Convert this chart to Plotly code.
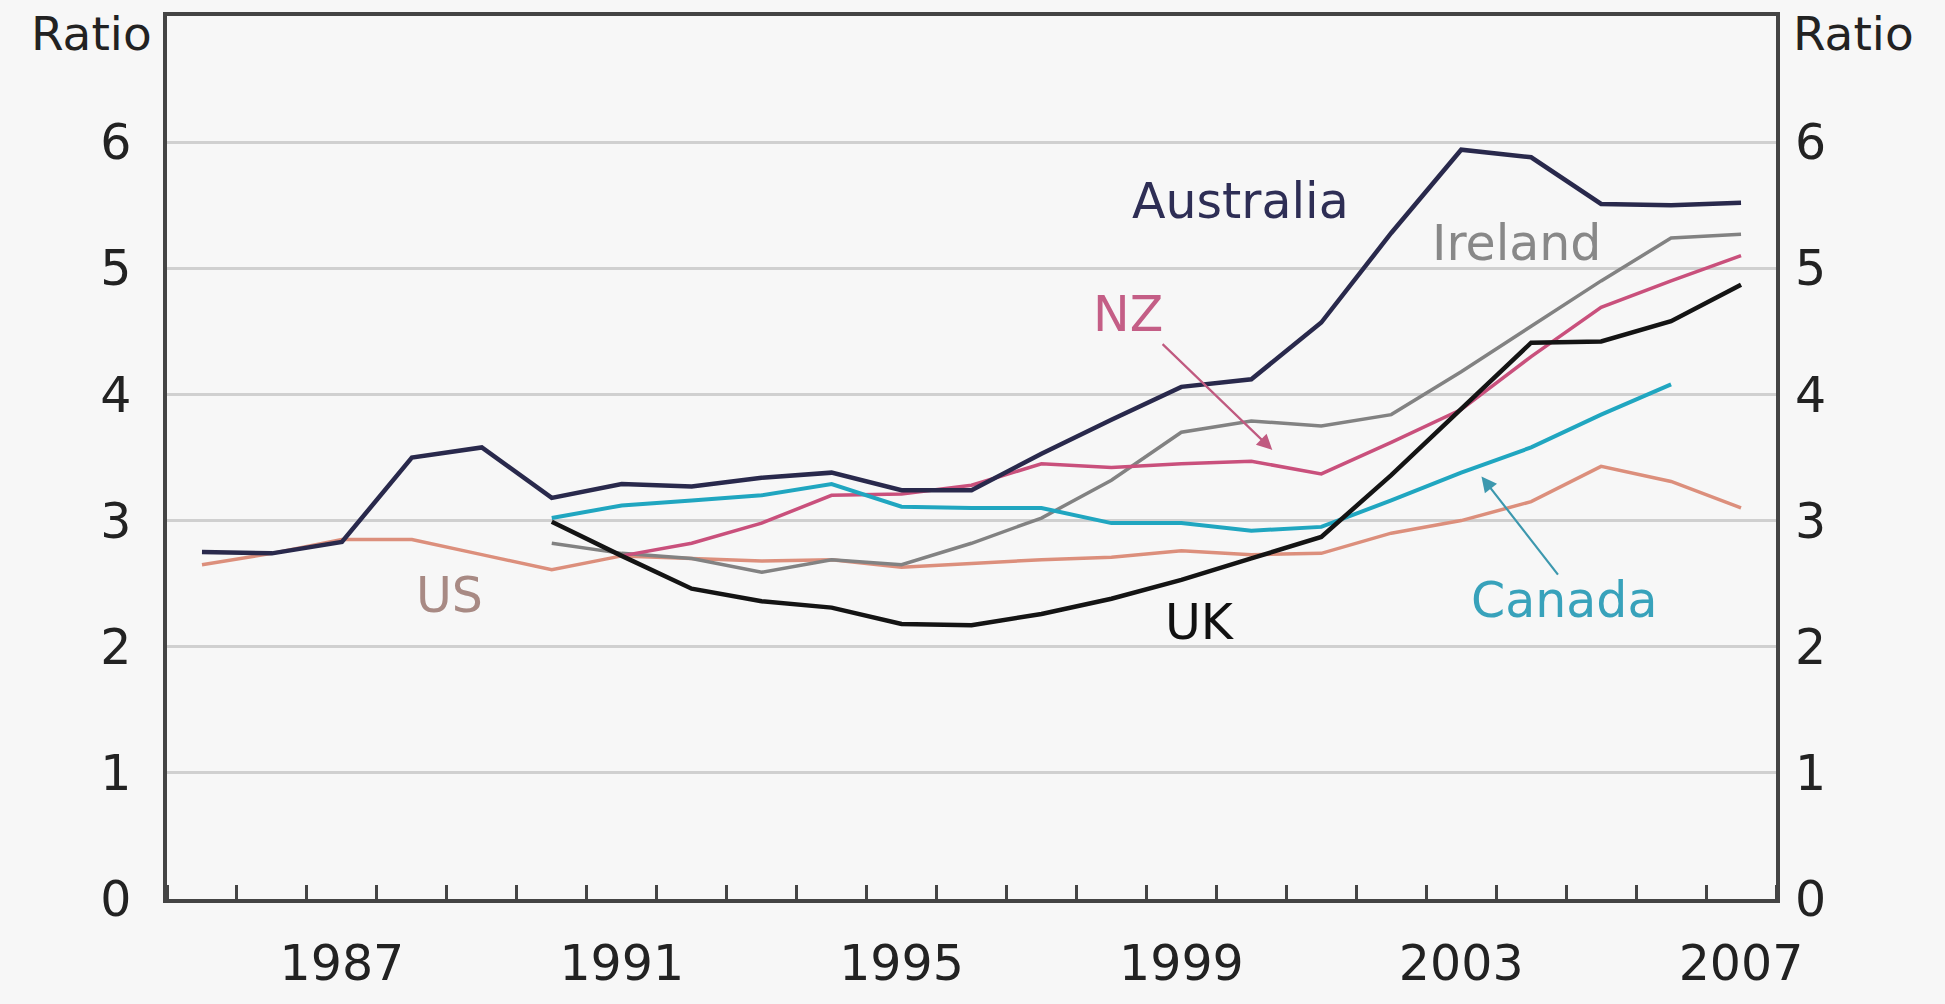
import plotly.graph_objects as go

years = list(range(1985, 2008))
N = None

australia = [2.75, 2.74, 2.83, 3.50, 3.58, 3.18, 3.29, 3.27, 3.34, 3.38, 3.24, 3.24,
             3.53, 3.80, 4.06, 4.12, 4.57, 5.28, 5.94, 5.88, 5.51, 5.50, 5.52]
us = [2.65, 2.74, 2.85, 2.85, 2.73, 2.61, 2.72, 2.70, 2.68, 2.69, 2.63, 2.66,
      2.69, 2.71, 2.76, 2.73, 2.74, 2.90, 3.00, 3.15, 3.43, 3.31, 3.10]
uk = [N, N, N, N, N, 2.99, 2.72, 2.46, 2.36, 2.31, 2.18, 2.17,
      2.26, 2.38, 2.53, 2.70, 2.87, 3.36, 3.89, 4.41, 4.42, 4.58, 4.87]
canada = [N, N, N, N, N, 3.02, 3.12, 3.16, 3.20, 3.29, 3.11, 3.10,
          3.10, 2.98, 2.98, 2.92, 2.95, 3.16, 3.38, 3.58, 3.84, 4.08, N]
ireland = [N, N, N, N, N, 2.82, 2.74, 2.70, 2.59, 2.69, 2.65, 2.82,
           3.02, 3.32, 3.70, 3.79, 3.75, 3.84, 4.18, 4.54, 4.90, 5.24, 5.27]
nz = [N, N, N, N, N, N, 2.72, 2.82, 2.98, 3.20, 3.21, 3.28,
      3.45, 3.42, 3.45, 3.47, 3.37, 3.62, 3.88, 4.30, 4.69, 4.90, 5.10]

x_labels = [1987, 1991, 1995, 1999, 2003, 2007]
y_ticks = [0, 1, 2, 3, 4, 5, 6]

FONT = "DejaVu Sans"
BG = "#f7f7f7"
AXC = "#444444"

series = [
    ("US", us, "#dc8f7c", 3.5),
    ("Ireland", ireland, "#828282", 3.5),
    ("NZ", nz, "#c9507c", 3.5),
    ("Canada", canada, "#20a6c0", 4),
    ("UK", uk, "#141414", 4.5),
    ("Australia", australia, "#29294c", 4.5),
]

fig = go.Figure()
for name, vals, col, w in series:
    fig.add_trace(go.Scatter(x=years, y=vals, mode="lines", name=name,
                             line=dict(color=col, width=w), connectgaps=False))
# invisible trace to activate right axis
fig.add_trace(go.Scatter(x=[years[0]], y=[0], yaxis="y2", mode="lines",
                         line=dict(width=0), showlegend=False, hoverinfo="skip"))

labels = [
    ("Australia", 1999.84, 5.53, "#2e2e55"),
    ("Ireland", 2003.79, 5.20, "#888888"),
    ("NZ", 1998.23, 4.63, "#c45e86"),
    ("US", 1988.54, 2.41, "#a88a84"),
    ("UK", 1999.26, 2.19, "#111111"),
    ("Canada", 2004.47, 2.37, "#38a2bb"),
]
for t, x, y, c in labels:
    fig.add_annotation(x=x, y=y, xref="x", yref="y", text=t, showarrow=False,
                       font=dict(family=FONT, size=49, color=c))

arrows = [
    (2000.30, 3.56, 1998.71, 4.41, "#c05a80"),
    (2003.29, 3.35, 2004.40, 2.56, "#3d98ae"),
]
for x, y, ax, ay, c in arrows:
    fig.add_annotation(x=x, y=y, ax=ax, ay=ay, xref="x", yref="y", axref="x", ayref="y",
                       text="", showarrow=True, arrowhead=2, arrowsize=1.4,
                       arrowwidth=2.2, arrowcolor=c)

fig.add_annotation(x=0, y=1, xref="paper", yref="paper", text="Ratio", showarrow=False,
                   xanchor="right", yanchor="middle", xshift=-13, yshift=-17,
                   font=dict(family=FONT, size=47, color="#222"))
fig.add_annotation(x=1, y=1, xref="paper", yref="paper", text="Ratio", showarrow=False,
                   xanchor="left", yanchor="middle", xshift=15, yshift=-17,
                   font=dict(family=FONT, size=47, color="#222"))

fig.update_layout(
    width=1945, height=1004,
    margin=dict(l=167, r=169, t=14, b=76),
    paper_bgcolor=BG, plot_bgcolor=BG,
    showlegend=False,
    font=dict(family=FONT, size=48, color="#222"),
    xaxis=dict(range=[1984.5, 2007.5], tickmode="array", tickvals=x_labels,
               ticktext=[str(v) for v in x_labels], ticks="", showgrid=False,
               showline=True, linecolor=AXC, linewidth=3.5, mirror=True,
               zeroline=False, ticklabelstandoff=18,
               tickfont=dict(family=FONT, size=49, color="#222"),
               minor=dict(tickmode="linear", tick0=1984.5, dtick=1, ticks="inside",
                          ticklen=14, tickwidth=2.5, tickcolor=AXC, showgrid=False)),
    yaxis=dict(range=[0, 7], tickmode="array", tickvals=y_ticks, ticks="",
               showgrid=True, gridcolor="#d0d0d0", gridwidth=3,
               showline=True, linecolor=AXC, linewidth=3.5, mirror=True,
               zeroline=False, ticklabelstandoff=22,
               tickfont=dict(family=FONT, size=49, color="#222")),
    yaxis2=dict(range=[0, 7], tickmode="array", tickvals=y_ticks, ticks="",
                overlaying="y", side="right", showgrid=False, showline=False,
                zeroline=False, ticklabelstandoff=18,
                tickfont=dict(family=FONT, size=49, color="#222")),
)

fig.write_html("out.html", config={"displayModeBar": False},
               post_script="document.body.style.margin='0';document.body.style.background='#f7f7f7';")
